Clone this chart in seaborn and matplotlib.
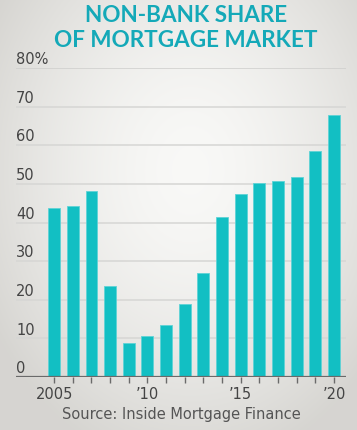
import numpy as np
import pandas as pd
import seaborn as sns
import matplotlib.pyplot as plt
from matplotlib import font_manager

# datos
years = [2005, 2006, 2007, 2008, 2009, 2010, 2011, 2012,
         2013, 2014, 2015, 2016, 2017, 2018, 2019, 2020]
share = [43.7, 44.2, 48.1, 23.5, 8.9, 10.6, 13.5, 18.9,
         26.8, 41.3, 47.5, 50.1, 50.7, 51.8, 58.6, 67.8]
y_ticks = [0, 10, 20, 30, 40, 50, 60, 70, 80]
y_labels = ["0", "10", "20", "30", "40", "50", "60", "70", "80%"]
x_labels = {2005: "2005", 2010: "’10", 2015: "’15", 2020: "’20"}

df = pd.DataFrame({"year": [str(y) for y in years], "share": share})

sns.set_theme(style="white")
names = {f.name for f in font_manager.fontManager.ttflist}
narrow = "Liberation Sans Narrow" if "Liberation Sans Narrow" in names else "DejaVu Sans"
plt.rcParams["font.family"] = [narrow, "DejaVu Sans"]

fig = plt.figure(figsize=(3.57, 4.30), dpi=100)

# fondo con degradado radial
bg = fig.add_axes([0, 0, 1, 1], zorder=-10)
yy, xx = np.mgrid[0:430, 0:357]
r = np.sqrt(((xx - 190) / 230.0) ** 2 + ((yy - 170) / 300.0) ** 2)
r = np.clip(r, 0, 1)
light = np.array([0.975, 0.975, 0.968])
dark = np.array([0.84, 0.835, 0.82])
img = light[None, None, :] * (1 - r[..., None] ** 1.6) + dark[None, None, :] * (r[..., None] ** 1.6)
bg.imshow(img, aspect="auto", extent=[0, 1, 0, 1])
bg.axis("off")

ax = fig.add_axes([16 / 357, 1 - 377 / 430, (345.7 - 16) / 357, (377 - 68) / 430])
ax.patch.set_alpha(0)

sns.barplot(data=df, x="year", y="share", color="#12bfc3", width=0.63,
            edgecolor="#5fd3d6", linewidth=0.6, saturation=1, ax=ax, zorder=3)

ax.set_ylim(0, 80)
ax.set_xlim(-2.04, 15.63)

for t in y_ticks[1:]:
    ax.axhline(t, color="#d6d6d4" if t < 80 else "#cfcfcd", lw=1.1, zorder=1)
ax.axhline(0, color="#6a6a6a", lw=1.6, zorder=4)

for t, lab in zip(y_ticks, y_labels):
    ax.text(0, t + 1.0, lab, transform=ax.get_yaxis_transform(), ha="left",
            va="baseline", fontsize=10.5, color="#444444")

ax.set_yticks([])
ax.set_xticks(range(len(years)))
ax.set_xticklabels([x_labels.get(y, "") for y in years], fontsize=10.5, color="#444444")
ax.tick_params(axis="x", bottom=True, length=4, width=1, color="#6a6a6a", pad=3)
ax.set_xlabel("")
ax.set_ylabel("")
sns.despine(ax=ax, left=True, bottom=True)

title_font = ["Lato", "Open Sans", "DejaVu Sans"]
fig.text(0.52, 1 - 22 / 430, "NON-BANK SHARE", ha="center", va="baseline",
         fontsize=16.2, fontweight="bold", color="#14a9b8", family=title_font)
fig.text(0.52, 1 - 47 / 430, "OF MORTGAGE MARKET", ha="center", va="baseline",
         fontsize=16.2, fontweight="bold", color="#14a9b8", family=title_font)
fig.text(181 / 357, 1 - 415 / 430, "Source: Inside Mortgage Finance", ha="center",
         va="center", fontsize=10.5, color="#555555")

fig.savefig("out.png", dpi=100)
